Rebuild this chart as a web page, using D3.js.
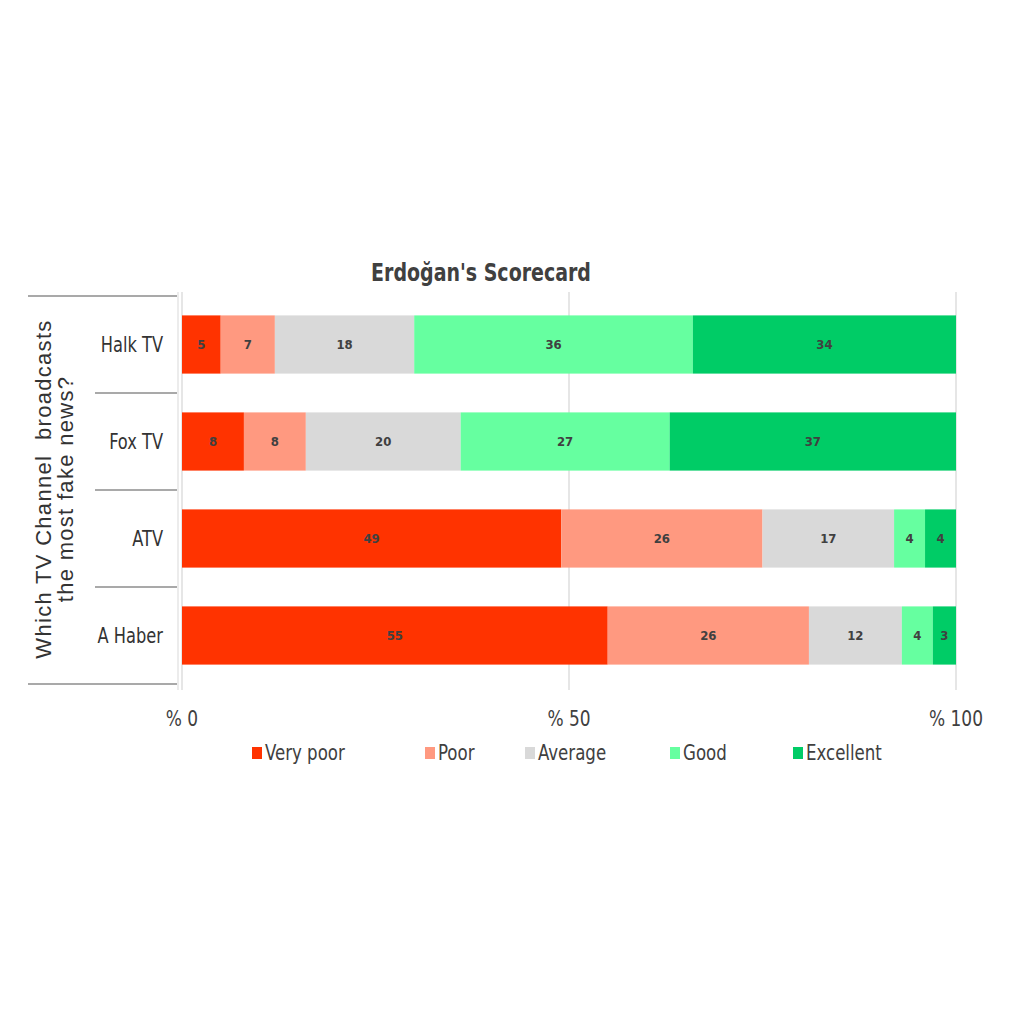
<!DOCTYPE html>
<html>
<head>
<meta charset="utf-8">
<script src="https://cdn.jsdelivr.net/npm/d3@7"></script>
<style>
	body { margin: 0; background: #fff; }
	svg { display: block; }
	.cond { font-family: 'DejaVu Sans Condensed', 'Roboto', sans-serif; }
	.axis-title { font-family: 'Liberation Sans', 'Arimo', Arial, sans-serif; white-space: pre; }
</style>
</head>
<body>
<svg id="chart" width="1024" height="1024"></svg>
<script>
const CHANNELS = ['Halk TV', 'Fox TV', 'ATV', 'A Haber'];
const RATINGS = ['Very poor', 'Poor', 'Average', 'Good', 'Excellent'];
const COLORS = ['#ff3300', '#ff9980', '#d9d9d9', '#66ffa0', '#00cc66'];
const VERY_POOR = [5, 8, 49, 55];
const POOR = [7, 8, 26, 26];
const AVERAGE = [18, 20, 17, 12];
const GOOD = [36, 27, 4, 4];
const EXCELLENT = [34, 37, 4, 3];
const X_TICKS = [0, 50, 100];

const rows = CHANNELS.map((c, i) => ({
	channel: c,
	'Very poor': VERY_POOR[i],
	Poor: POOR[i],
	Average: AVERAGE[i],
	Good: GOOD[i],
	Excellent: EXCELLENT[i]
}));

const $svg = d3.select('#chart');

const x = d3.scaleLinear().domain([0, 100]).range([182, 956]);
const y = d3.scaleBand().domain(CHANNELS).range([296, 684]).paddingInner(0.4).paddingOuter(0.2);
const color = d3.scaleOrdinal().domain(RATINGS).range(COLORS);

// squeeze text horizontally, the original uses a condensed face
function narrow($sel, fx, fy, sx) {
	return $sel
		.attr('x', 0)
		.attr('y', 0)
		.attr('transform', (d, i) => `translate(${fx(d, i)},${fy(d, i)}) scale(${sx},1)`);
}

// vertical grid
$svg.append('g')
	.selectAll('line')
	.data(X_TICKS)
	.join('line')
	.attr('x1', d => x(d))
	.attr('x2', d => x(d))
	.attr('y1', 292)
	.attr('y2', 690)
	.attr('stroke', '#e6e6e6')
	.attr('stroke-width', 2);

// stacked bars
const stacked = d3.stack().keys(RATINGS)(rows);
const $layers = $svg.append('g')
	.selectAll('g')
	.data(stacked)
	.join('g')
	.attr('fill', d => color(d.key));

$layers.selectAll('rect')
	.data(d => d)
	.join('rect')
	.attr('x', d => x(d[0]))
	.attr('y', d => y(d.data.channel))
	.attr('width', d => x(d[1]) - x(d[0]))
	.attr('height', y.bandwidth());

$layers.selectAll('text')
	.data(d => d)
	.join('text')
	.attr('class', 'cond')
	.attr('x', d => (x(d[0]) + x(d[1])) / 2)
	.attr('y', d => y(d.data.channel) + y.bandwidth() / 2)
	.attr('dy', '0.35em')
	.attr('text-anchor', 'middle')
	.attr('font-size', 13)
	.attr('font-weight', 'bold')
	.attr('fill', '#404040')
	.text(d => d[1] - d[0]);

// category axis: outer lines run under the title, inner ones stop at the labels
const step = y.step();
const bounds = CHANNELS.map(c => y(c) - step * y.paddingInner() / 2).concat([684]);
$svg.append('g')
	.selectAll('line')
	.data(bounds)
	.join('line')
	.attr('x1', (d, i) => (i === 0 || i === bounds.length - 1 ? 28 : 95))
	.attr('x2', 177)
	.attr('y1', d => d)
	.attr('y2', d => d)
	.attr('stroke', '#8c8c8c')
	.attr('stroke-width', 1.5);

$svg.append('line')
	.attr('x1', 178).attr('x2', 178)
	.attr('y1', 292).attr('y2', 690)
	.attr('stroke', '#ececec')
	.attr('stroke-width', 2);

narrow(
	$svg.append('g')
		.selectAll('text')
		.data(CHANNELS)
		.join('text')
		.attr('class', 'cond'),
	() => 163,
	d => y(d) + y.bandwidth() / 2,
	0.86
)
	.attr('dy', '0.35em')
	.attr('text-anchor', 'end')
	.attr('font-size', 21)
	.attr('fill', '#333')
	.text(d => d);

// rotated axis title
const $ttl = $svg.append('text')
	.attr('class', 'axis-title')
	.attr('transform', 'translate(54,489) rotate(-90)')
	.attr('text-anchor', 'middle')
	.attr('font-size', 22)
	.attr('letter-spacing', 1.3)
	.attr('fill', '#333');
$ttl.append('tspan').attr('x', 0).attr('dy', '-0.15em').text('Which TV Channel  broadcasts');
$ttl.append('tspan').attr('x', 0).attr('dy', '1.0em').text('the most fake news?');

// x tick labels
narrow(
	$svg.append('g')
		.selectAll('text')
		.data(X_TICKS)
		.join('text')
		.attr('class', 'cond'),
	d => x(d),
	() => 726,
	0.9
)
	.attr('text-anchor', 'middle')
	.attr('font-size', 21)
	.attr('fill', '#404040')
	.text(d => '% ' + d);

// title
$svg.append('text')
	.attr('class', 'cond')
	.attr('transform', 'translate(481,281) scale(0.88,1)')
	.attr('text-anchor', 'middle')
	.attr('font-size', 24)
	.attr('font-weight', 'bold')
	.attr('fill', '#404040')
	.text('Erdoğan\'s Scorecard');

// legend
const LEGEND_X = [252, 425, 525, 670, 793];
const $leg = $svg.append('g')
	.selectAll('g')
	.data(RATINGS)
	.join('g')
	.attr('transform', (d, i) => `translate(${LEGEND_X[i]},753)`);
$leg.append('rect')
	.attr('x', 0).attr('y', -6)
	.attr('width', 10).attr('height', 12)
	.attr('fill', d => color(d));
$leg.append('text')
	.attr('class', 'cond')
	.attr('transform', 'translate(13,0) scale(0.88,1)')
	.attr('dy', '0.35em')
	.attr('font-size', 21)
	.attr('fill', '#404040')
	.text(d => d);
</script>
</body>
</html>
